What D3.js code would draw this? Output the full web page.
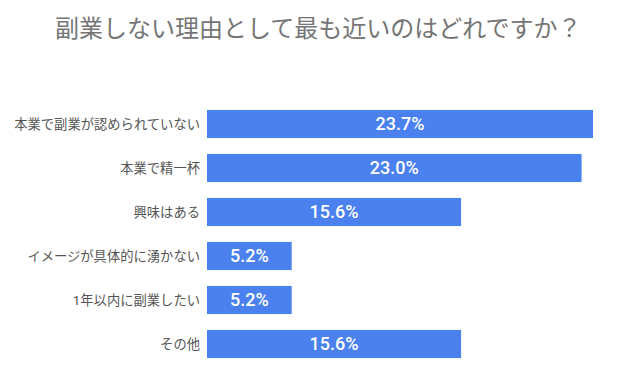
<!DOCTYPE html>
<html>
<head>
<meta charset="utf-8">
<script src="https://cdn.jsdelivr.net/npm/d3@7"></script>
<style>
  body { margin: 0; background: #fff; }
  svg { font-family: Roboto, 'Noto Sans CJK JP', sans-serif; }
</style>
</head>
<body>
<div id="chart"></div>
<script>
const title = '副業しない理由として最も近いのはどれですか？'
const categories = [
  '本業で副業が認められていない',
  '本業で精一杯',
  '興味はある',
  'イメージが具体的に湧かない',
  '1年以内に副業したい',
  'その他',
]
const values = [23.7, 23.0, 15.6, 5.2, 5.2, 15.6]

const WIDTH = 634
const HEIGHT = 389
const margin = { top: 102, right: 30, bottom: 10, left: 207 }

const svg = d3.select('#chart')
  .append('svg')
  .attr('width', WIDTH)
  .attr('height', HEIGHT)

svg.append('text')
  .attr('x', 55)
  .attr('y', 37)
  .attr('fill', '#757575')
  .attr('font-size', 24)
  .text(title)

const x = d3.scaleLinear()
  .domain([0, 23.7])
  .range([margin.left, 593])

const y = d3.scaleBand()
  .domain(categories)
  .range([margin.top, margin.top + 44 * categories.length])
  .paddingInner(0.36)
  .paddingOuter(0.18)

const data = categories.map((c, i) => ({ cat: c, val: values[i] }))

svg.append('g')
  .selectAll('rect')
  .data(data)
  .enter()
  .append('rect')
  .attr('x', x(0))
  .attr('y', (d) => y(d.cat))
  .attr('width', (d) => x(d.val) - x(0))
  .attr('height', y.bandwidth())
  .attr('fill', '#4a81ee')

svg.append('g')
  .selectAll('text')
  .data(data)
  .enter()
  .append('text')
  .attr('x', (d) => (x(0) + x(d.val)) / 2)
  .attr('y', (d) => y(d.cat) + y.bandwidth() / 2)
  .attr('dy', '.36em')
  .attr('text-anchor', 'middle')
  .attr('fill', '#fff')
  .attr('font-size', 18)
  .attr('font-weight', 500)
  .text((d) => d.val.toFixed(1) + '%')

// category labels
svg.append('g')
  .selectAll('text')
  .data(categories)
  .enter()
  .append('text')
  .attr('x', 200)
  .attr('y', (d) => y(d) + y.bandwidth() / 2)
  .attr('dy', '.36em')
  .attr('text-anchor', 'end')
  .attr('fill', '#555')
  .attr('font-size', 13.3)
  .text((d) => d)
</script>
</body>
</html>
